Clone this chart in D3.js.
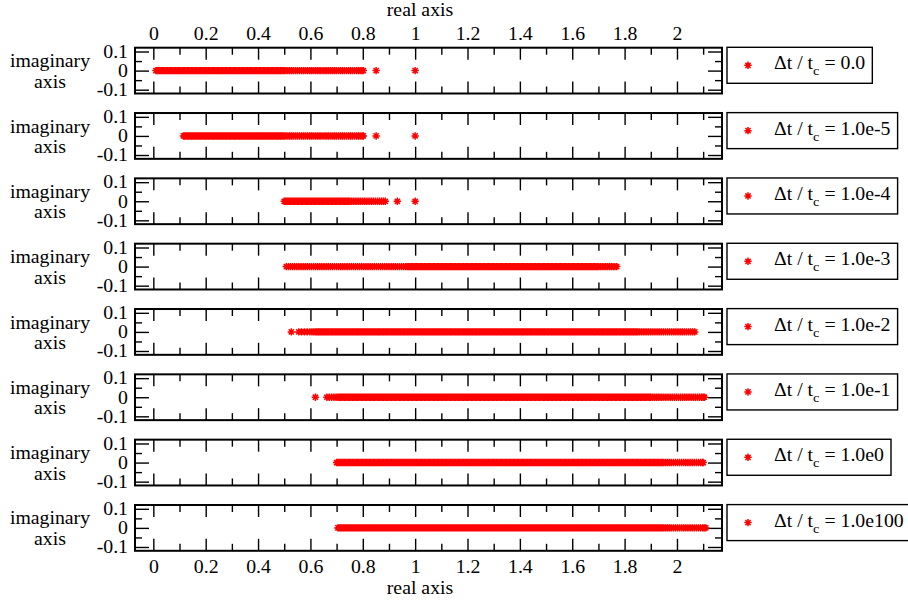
<!DOCTYPE html>
<html>
<head>
<meta charset="utf-8">
<script src="https://cdn.jsdelivr.net/npm/d3@7"></script>
<style>
  html, body { margin: 0; padding: 0; background: #fff; }
  svg { display: block; font-family: "Liberation Serif", "Times New Roman", serif; }
</style>
</head>
<body>
<svg id="chart" width="908" height="601"></svg>
<script>
// Real parts of the eigenvalues (imaginary parts are all zero), one array per time step ratio.
const eigDt0 = [
  0.01,0.015,0.02,0.025,0.03,0.035,0.04,0.045,0.05,0.055,0.06,0.065,0.07,0.075,0.08,0.085,0.09,0.095,
  0.10,0.105,0.11,0.115,0.12,0.125,0.13,0.135,0.14,0.145,0.15,0.155,0.16,0.165,0.17,0.175,0.18,0.185,0.19,0.195,
  0.20,0.205,0.21,0.215,0.22,0.225,0.23,0.235,0.24,0.245,0.25,0.255,0.26,0.265,0.27,0.275,0.28,0.285,0.29,0.295,
  0.30,0.305,0.31,0.315,0.32,0.325,0.33,0.335,0.34,0.345,0.35,0.355,0.36,0.365,0.37,0.375,0.38,0.385,0.39,0.395,
  0.40,0.405,0.41,0.415,0.42,0.425,0.43,0.435,0.44,0.445,0.45,0.455,0.46,0.465,0.47,0.475,0.48,0.485,0.49,0.495,
  0.50,0.507,0.514,0.521,0.528,0.535,0.543,0.55,0.558,0.566,0.573,0.58,0.588,0.596,0.603,0.61,0.618,0.626,
  0.633,0.64,0.648,0.656,0.663,0.67,0.678,0.686,0.693,0.70,0.708,0.716,0.723,0.73,0.738,0.746,0.753,0.76,
  0.768,0.776,0.783,0.79,0.797,0.802,
  0.851,1.0
];
const eigDt1em5 = [
  0.115,0.12,0.125,0.13,0.135,0.14,0.145,0.15,0.155,0.16,0.165,0.17,0.175,0.18,0.185,0.19,0.195,
  0.20,0.205,0.21,0.215,0.22,0.225,0.23,0.235,0.24,0.245,0.25,0.255,0.26,0.265,0.27,0.275,0.28,0.285,0.29,0.295,
  0.30,0.305,0.31,0.315,0.32,0.325,0.33,0.335,0.34,0.345,0.35,0.355,0.36,0.365,0.37,0.375,0.38,0.385,0.39,0.395,
  0.40,0.405,0.41,0.415,0.42,0.425,0.43,0.435,0.44,0.445,0.45,0.455,0.46,0.465,0.47,0.475,0.48,0.485,0.49,0.495,
  0.50,0.507,0.514,0.521,0.528,0.535,0.543,0.55,0.558,0.566,0.573,0.58,0.588,0.596,0.603,0.61,0.618,0.626,
  0.633,0.64,0.648,0.656,0.663,0.67,0.678,0.686,0.693,0.70,0.708,0.716,0.723,0.73,0.738,0.746,0.753,0.76,
  0.768,0.776,0.783,0.79,0.797,0.802,
  0.851,1.0
];
const eigDt1em4 = [
  0.50,0.505,0.51,0.515,0.52,0.525,0.53,0.535,0.54,0.545,0.55,0.555,0.56,0.565,0.57,0.575,0.58,0.585,0.59,0.595,
  0.60,0.605,0.61,0.615,0.62,0.625,0.63,0.635,0.64,0.645,0.65,0.655,0.66,0.665,0.67,0.675,0.68,0.685,0.69,0.695,
  0.70,0.705,0.71,0.715,0.72,0.725,0.73,0.735,0.74,0.745,0.75,
  0.757,0.764,0.771,0.778,0.785,0.792,0.80,0.808,0.816,0.824,0.832,0.84,0.848,0.856,0.864,0.872,0.879,0.886,
  0.932,1.0
];
const eigDt1em3 = [
  0.508,0.516,0.524,0.532,0.54,0.548,0.556,0.564,0.572,0.58,0.588,0.596,0.604,0.612,0.62,0.628,0.636,0.644,
  0.652,0.66,0.668,0.676,0.684,0.692,0.70,0.708,0.716,0.724,0.732,0.74,0.748,0.756,0.764,0.772,0.78,0.788,
  0.796,0.804,0.812,0.82,0.828,0.836,0.844,0.852,0.86,0.868,0.876,0.884,0.892,0.90,0.908,0.916,0.924,0.932,
  0.94,0.948,0.956,0.964,
  0.97,0.975,0.98,0.985,0.99,0.995,
  1.00,1.005,1.01,1.015,1.02,1.025,1.03,1.035,1.04,1.045,1.05,1.055,1.06,1.065,1.07,1.075,1.08,1.085,1.09,1.095,
  1.10,1.105,1.11,1.115,1.12,1.125,1.13,1.135,1.14,1.145,1.15,1.155,1.16,1.165,1.17,1.175,1.18,1.185,1.19,1.195,
  1.20,1.205,1.21,1.215,1.22,1.225,1.23,1.235,1.24,1.245,1.25,1.255,1.26,1.265,1.27,1.275,1.28,1.285,1.29,1.295,
  1.30,1.305,1.31,1.315,1.32,1.325,1.33,1.335,1.34,1.345,1.35,1.355,1.36,1.365,1.37,1.375,1.38,1.385,1.39,1.395,
  1.40,1.405,1.41,1.415,1.42,1.425,1.43,1.435,1.44,1.445,1.45,1.455,1.46,1.465,1.47,1.475,1.48,1.485,1.49,1.495,
  1.50,1.505,1.51,1.515,1.52,1.525,1.53,1.535,1.54,1.545,1.55,1.555,1.56,1.565,1.57,1.575,1.58,1.585,1.59,1.595,
  1.60,1.605,1.61,1.615,1.62,1.625,1.63,1.635,1.64,1.645,1.65,1.655,1.66,1.665,1.67,1.675,1.68,1.685,1.69,1.695,
  1.70,1.707,1.714,1.721,1.728,1.735,1.742,1.749,1.756,1.763,1.77
];
const eigDt1em2 = [
  0.527,
  0.555,0.566,0.577,0.588,0.598,0.606,0.613,
  0.62,0.625,0.63,0.635,0.64,0.645,0.65,0.655,0.66,0.665,0.67,0.675,0.68,0.685,0.69,0.695,
  0.70,0.705,0.71,0.715,0.72,0.725,0.73,0.735,0.74,0.745,0.75,0.755,0.76,0.765,0.77,0.775,0.78,0.785,0.79,0.795,
  0.80,0.805,0.81,0.815,0.82,0.825,0.83,0.835,0.84,0.845,0.85,0.855,0.86,0.865,0.87,0.875,0.88,0.885,0.89,0.895,
  0.90,0.905,0.91,0.915,0.92,0.925,0.93,0.935,0.94,0.945,0.95,0.955,0.96,0.965,0.97,0.975,0.98,0.985,0.99,0.995,
  1.00,1.005,1.01,1.015,1.02,1.025,1.03,1.035,1.04,1.045,1.05,1.055,1.06,1.065,1.07,1.075,1.08,1.085,1.09,1.095,
  1.10,1.105,1.11,1.115,1.12,1.125,1.13,1.135,1.14,1.145,1.15,1.155,1.16,1.165,1.17,1.175,1.18,1.185,1.19,1.195,
  1.20,1.205,1.21,1.215,1.22,1.225,1.23,1.235,1.24,1.245,1.25,1.255,1.26,1.265,1.27,1.275,1.28,1.285,1.29,1.295,
  1.30,1.305,1.31,1.315,1.32,1.325,1.33,1.335,1.34,1.345,1.35,1.355,1.36,1.365,1.37,1.375,1.38,1.385,1.39,1.395,
  1.40,1.405,1.41,1.415,1.42,1.425,1.43,1.435,1.44,1.445,1.45,1.455,1.46,1.465,1.47,1.475,1.48,1.485,1.49,1.495,
  1.50,1.505,1.51,1.515,1.52,1.525,1.53,1.535,1.54,1.545,1.55,1.555,1.56,1.565,1.57,1.575,1.58,1.585,1.59,1.595,
  1.60,1.605,1.61,1.615,1.62,1.625,1.63,1.635,1.64,1.645,1.65,1.655,1.66,1.665,1.67,1.675,1.68,1.685,1.69,1.695,
  1.70,1.705,1.71,1.715,1.72,1.725,1.73,1.735,1.74,1.745,1.75,1.755,1.76,1.765,1.77,1.775,1.78,1.785,1.79,1.795,
  1.80,1.805,1.81,1.815,1.82,1.825,1.83,1.835,1.84,1.845,1.85,
  1.857,1.864,1.871,1.878,1.885,1.892,1.90,1.908,1.916,1.924,1.932,1.94,1.948,1.956,1.964,1.972,1.98,1.988,
  1.996,2.004,2.012,2.02,2.028,2.036,2.044,2.052,2.06,2.068
];
const eigDt1em1 = [
  0.619,
  0.663,0.672,0.681,0.69,0.698,0.705,0.71,
  0.715,0.72,0.725,0.73,0.735,0.74,0.745,0.75,0.755,0.76,0.765,0.77,0.775,0.78,0.785,0.79,0.795,
  0.80,0.805,0.81,0.815,0.82,0.825,0.83,0.835,0.84,0.845,0.85,0.855,0.86,0.865,0.87,0.875,0.88,0.885,0.89,0.895,
  0.90,0.905,0.91,0.915,0.92,0.925,0.93,0.935,0.94,0.945,0.95,0.955,0.96,0.965,0.97,0.975,0.98,0.985,0.99,0.995,
  1.00,1.005,1.01,1.015,1.02,1.025,1.03,1.035,1.04,1.045,1.05,1.055,1.06,1.065,1.07,1.075,1.08,1.085,1.09,1.095,
  1.10,1.105,1.11,1.115,1.12,1.125,1.13,1.135,1.14,1.145,1.15,1.155,1.16,1.165,1.17,1.175,1.18,1.185,1.19,1.195,
  1.20,1.205,1.21,1.215,1.22,1.225,1.23,1.235,1.24,1.245,1.25,1.255,1.26,1.265,1.27,1.275,1.28,1.285,1.29,1.295,
  1.30,1.305,1.31,1.315,1.32,1.325,1.33,1.335,1.34,1.345,1.35,1.355,1.36,1.365,1.37,1.375,1.38,1.385,1.39,1.395,
  1.40,1.405,1.41,1.415,1.42,1.425,1.43,1.435,1.44,1.445,1.45,1.455,1.46,1.465,1.47,1.475,1.48,1.485,1.49,1.495,
  1.50,1.505,1.51,1.515,1.52,1.525,1.53,1.535,1.54,1.545,1.55,1.555,1.56,1.565,1.57,1.575,1.58,1.585,1.59,1.595,
  1.60,1.605,1.61,1.615,1.62,1.625,1.63,1.635,1.64,1.645,1.65,1.655,1.66,1.665,1.67,1.675,1.68,1.685,1.69,1.695,
  1.70,1.705,1.71,1.715,1.72,1.725,1.73,1.735,1.74,1.745,1.75,1.755,1.76,1.765,1.77,1.775,1.78,1.785,1.79,1.795,
  1.80,1.805,1.81,1.815,1.82,1.825,1.83,1.835,1.84,1.845,1.85,1.855,1.86,1.865,1.87,1.875,1.88,1.885,1.89,1.895,1.90,
  1.907,1.914,1.921,1.928,1.935,1.942,1.95,1.958,1.966,1.974,1.982,1.99,1.998,2.006,2.014,2.022,2.03,2.038,
  2.046,2.054,2.062,2.07,2.078,2.086,2.094,2.10,2.105
];
const eigDt1e0 = [
  0.70,0.705,0.71,0.715,0.72,0.725,0.73,0.735,0.74,0.745,0.75,0.755,0.76,0.765,0.77,0.775,0.78,0.785,0.79,0.795,
  0.80,0.805,0.81,0.815,0.82,0.825,0.83,0.835,0.84,0.845,0.85,0.855,0.86,0.865,0.87,0.875,0.88,0.885,0.89,0.895,
  0.90,0.905,0.91,0.915,0.92,0.925,0.93,0.935,0.94,0.945,0.95,0.955,0.96,0.965,0.97,0.975,0.98,0.985,0.99,0.995,
  1.00,1.005,1.01,1.015,1.02,1.025,1.03,1.035,1.04,1.045,1.05,1.055,1.06,1.065,1.07,1.075,1.08,1.085,1.09,1.095,
  1.10,1.105,1.11,1.115,1.12,1.125,1.13,1.135,1.14,1.145,1.15,1.155,1.16,1.165,1.17,1.175,1.18,1.185,1.19,1.195,
  1.20,1.205,1.21,1.215,1.22,1.225,1.23,1.235,1.24,1.245,1.25,1.255,1.26,1.265,1.27,1.275,1.28,1.285,1.29,1.295,
  1.30,1.305,1.31,1.315,1.32,1.325,1.33,1.335,1.34,1.345,1.35,1.355,1.36,1.365,1.37,1.375,1.38,1.385,1.39,1.395,
  1.40,1.405,1.41,1.415,1.42,1.425,1.43,1.435,1.44,1.445,1.45,1.455,1.46,1.465,1.47,1.475,1.48,1.485,1.49,1.495,
  1.50,1.505,1.51,1.515,1.52,1.525,1.53,1.535,1.54,1.545,1.55,1.555,1.56,1.565,1.57,1.575,1.58,1.585,1.59,1.595,
  1.60,1.605,1.61,1.615,1.62,1.625,1.63,1.635,1.64,1.645,1.65,1.655,1.66,1.665,1.67,1.675,1.68,1.685,1.69,1.695,
  1.70,1.705,1.71,1.715,1.72,1.725,1.73,1.735,1.74,1.745,1.75,1.755,1.76,1.765,1.77,1.775,1.78,1.785,1.79,1.795,
  1.80,1.805,1.81,1.815,1.82,1.825,1.83,1.835,1.84,1.845,1.85,1.855,1.86,1.865,1.87,1.875,1.88,1.885,1.89,1.895,
  1.90,1.905,1.91,1.915,1.92,1.925,1.93,1.935,1.94,1.945,1.95,
  1.957,1.964,1.971,1.978,1.986,1.994,2.002,2.01,2.018,2.026,2.034,2.042,2.05,2.058,2.066,2.074,2.082,2.09,2.097,2.10
];
const eigDt1e100 = [
  0.705,0.71,0.715,0.72,0.725,0.73,0.735,0.74,0.745,0.75,0.755,0.76,0.765,0.77,0.775,0.78,0.785,0.79,0.795,
  0.80,0.805,0.81,0.815,0.82,0.825,0.83,0.835,0.84,0.845,0.85,0.855,0.86,0.865,0.87,0.875,0.88,0.885,0.89,0.895,
  0.90,0.905,0.91,0.915,0.92,0.925,0.93,0.935,0.94,0.945,0.95,0.955,0.96,0.965,0.97,0.975,0.98,0.985,0.99,0.995,
  1.00,1.005,1.01,1.015,1.02,1.025,1.03,1.035,1.04,1.045,1.05,1.055,1.06,1.065,1.07,1.075,1.08,1.085,1.09,1.095,
  1.10,1.105,1.11,1.115,1.12,1.125,1.13,1.135,1.14,1.145,1.15,1.155,1.16,1.165,1.17,1.175,1.18,1.185,1.19,1.195,
  1.20,1.205,1.21,1.215,1.22,1.225,1.23,1.235,1.24,1.245,1.25,1.255,1.26,1.265,1.27,1.275,1.28,1.285,1.29,1.295,
  1.30,1.305,1.31,1.315,1.32,1.325,1.33,1.335,1.34,1.345,1.35,1.355,1.36,1.365,1.37,1.375,1.38,1.385,1.39,1.395,
  1.40,1.405,1.41,1.415,1.42,1.425,1.43,1.435,1.44,1.445,1.45,1.455,1.46,1.465,1.47,1.475,1.48,1.485,1.49,1.495,
  1.50,1.505,1.51,1.515,1.52,1.525,1.53,1.535,1.54,1.545,1.55,1.555,1.56,1.565,1.57,1.575,1.58,1.585,1.59,1.595,
  1.60,1.605,1.61,1.615,1.62,1.625,1.63,1.635,1.64,1.645,1.65,1.655,1.66,1.665,1.67,1.675,1.68,1.685,1.69,1.695,
  1.70,1.705,1.71,1.715,1.72,1.725,1.73,1.735,1.74,1.745,1.75,1.755,1.76,1.765,1.77,1.775,1.78,1.785,1.79,1.795,
  1.80,1.805,1.81,1.815,1.82,1.825,1.83,1.835,1.84,1.845,1.85,1.855,1.86,1.865,1.87,1.875,1.88,1.885,1.89,1.895,
  1.90,1.905,1.91,1.915,1.92,1.925,1.93,1.935,1.94,1.945,1.95,
  1.957,1.964,1.971,1.978,1.986,1.994,2.002,2.01,2.018,2.026,2.034,2.042,2.05,2.058,2.066,2.074,2.082,2.09,2.098,
  2.104,2.11
];

// Legend values of Δt / t_c, in panel order
const stepLabels = ["0.0", "1.0e-5", "1.0e-4", "1.0e-3", "1.0e-2", "1.0e-1", "1.0e0", "1.0e100"];

// Axis ticks
const xMajorTicks = [0, 0.2, 0.4, 0.6, 0.8, 1.0, 1.2, 1.4, 1.6, 1.8, 2.0];
const xMajorLabels = ["0", "0.2", "0.4", "0.6", "0.8", "1", "1.2", "1.4", "1.6", "1.8", "2"];
const xMinorTicks = [0.1, 0.3, 0.5, 0.7, 0.9, 1.1, 1.3, 1.5, 1.7, 1.9, 2.1];
const yMajorTicks = [-0.1, 0, 0.1];
const yMajorLabels = ["-0.1", "0", "0.1"];
const yMinorTicks = [-0.05, 0.05];

const series = [eigDt0, eigDt1em5, eigDt1em4, eigDt1em3, eigDt1em2, eigDt1em1, eigDt1e0, eigDt1e100];

// ---- layout ----
const FONT = '"Liberation Serif", "Times New Roman", serif';
const FS = 18;
const WIDEN = 1.1;            // horizontal stretch applied to all text
const left = 135, right = 722;
const panelH = 45.8;
const svg = d3.select("#chart");

const x = d3.scaleLinear().domain([-0.07, 2.172]).range([left, right]);
const y = d3.scaleLinear().domain([-0.12, 0.12]).range([panelH, 0]);
const panelTop = d3.scaleLinear().domain([0, series.length - 1]).range([47.7, 505]);

// asterisk marker
const star = "M-3.7,0H3.7M0,-3.7V3.7M-2.6,-2.6L2.6,2.6M-2.6,2.6L2.6,-2.6";
const starWidth = 1.5;

// stretch a text element horizontally, keeping its anchor x fixed
function widen(sel, x0) {
  sel.each(function () {
    const t = d3.select(this);
    const ax = x0 !== undefined ? x0 : (+t.attr("x") || 0);
    t.attr("transform", `translate(${ax * (1 - WIDEN)},0) scale(${WIDEN},1)`);
  });
}

function styleAxis(g) {
  g.select(".domain").remove();
  g.selectAll(".tick line").attr("stroke", "#000").attr("stroke-width", 1.4);
  g.selectAll(".tick text").attr("font-family", FONT).attr("font-size", FS).attr("fill", "#000")
    .call(widen);
  g.attr("font-family", null).attr("font-size", null);
}

const xLabelFmt = v => xMajorLabels[xMajorTicks.findIndex(t => Math.abs(t - v) < 1e-9)];
const yLabelFmt = v => yMajorLabels[yMajorTicks.findIndex(t => Math.abs(t - v) < 1e-9)];

series.forEach((vals, i) => {
  const top = panelTop(i);
  const g = svg.append("g").attr("transform", `translate(0,${top})`);
  const first = i === 0, last = i === series.length - 1;

  // top x axis
  g.append("g")
    .call(d3.axisTop(x).tickValues(xMinorTicks).tickSize(-7).tickFormat(""))
    .call(styleAxis);
  g.append("g")
    .call(d3.axisTop(x).tickValues(xMajorTicks).tickSize(-12).tickPadding(8)
      .tickFormat(first ? xLabelFmt : () => ""))
    .call(styleAxis);

  // bottom x axis
  g.append("g").attr("transform", `translate(0,${panelH})`)
    .call(d3.axisBottom(x).tickValues(xMinorTicks).tickSize(-7).tickFormat(""))
    .call(styleAxis);
  g.append("g").attr("transform", `translate(0,${panelH})`)
    .call(d3.axisBottom(x).tickValues(xMajorTicks).tickSize(-12).tickPadding(9)
      .tickFormat(last ? xLabelFmt : () => ""))
    .call(styleAxis);

  // left y axis
  g.append("g").attr("transform", `translate(${left},0)`)
    .call(d3.axisLeft(y).tickValues(yMinorTicks).tickSize(-7).tickFormat(""))
    .call(styleAxis);
  g.append("g").attr("transform", `translate(${left},0)`)
    .call(d3.axisLeft(y).tickValues(yMajorTicks).tickSize(-14).tickPadding(7).tickFormat(yLabelFmt))
    .call(styleAxis);

  // right y axis
  g.append("g").attr("transform", `translate(${right},0)`)
    .call(d3.axisRight(y).tickValues(yMinorTicks).tickSize(-7).tickFormat(""))
    .call(styleAxis);
  g.append("g").attr("transform", `translate(${right},0)`)
    .call(d3.axisRight(y).tickValues(yMajorTicks).tickSize(-14).tickFormat(""))
    .call(styleAxis);

  // eigenvalue markers
  g.append("g").selectAll("path").data(vals).join("path")
    .attr("d", star)
    .attr("transform", d => `translate(${x(d)},${y(0)})`)
    .attr("fill", "none")
    .attr("stroke", "#ff0000")
    .attr("stroke-width", starWidth);

  // frame
  g.append("rect")
    .attr("x", left).attr("y", 0)
    .attr("width", right - left).attr("height", panelH)
    .attr("fill", "none").attr("stroke", "#000").attr("stroke-width", 2);

  // y axis title
  const yt = g.append("text").attr("font-family", FONT).attr("font-size", FS)
    .attr("text-anchor", "middle").attr("fill", "#000");
  yt.append("tspan").attr("x", 50).attr("y", 19.5).text("imaginary");
  yt.append("tspan").attr("x", 50).attr("y", 40).text("axis");
  widen(yt, 50);

  // legend box
  const lg = g.append("g").attr("transform", "translate(727,-0.4)");
  const box = lg.append("rect").attr("x", 0).attr("y", 0).attr("height", 36)
    .attr("fill", "#fff").attr("stroke", "#000").attr("stroke-width", 1.4);
  lg.append("path").attr("d", star).attr("transform", "translate(21,18)")
    .attr("fill", "none").attr("stroke", "#ff0000").attr("stroke-width", starWidth);
  const tx = 47;
  const lt = lg.append("text").attr("x", tx).attr("y", 22)
    .attr("font-family", FONT).attr("font-size", FS).attr("fill", "#000");
  lt.append("tspan").text("Δt / t");
  lt.append("tspan").attr("font-size", 13).attr("dy", 6).text("c");
  lt.append("tspan").attr("dy", -6).text(" = " + stepLabels[i]);
  const bb = lt.node().getBBox();
  widen(lt, tx);
  box.attr("width", tx + (bb.x + bb.width - tx) * WIDEN + 7);
});

// x axis titles
const cx = 420;
svg.append("text").attr("x", cx).attr("y", 16)
  .attr("text-anchor", "middle").attr("font-family", FONT).attr("font-size", FS)
  .attr("fill", "#000").text("real axis").call(widen);
svg.append("text").attr("x", cx).attr("y", 594)
  .attr("text-anchor", "middle").attr("font-family", FONT).attr("font-size", FS)
  .attr("fill", "#000").text("real axis").call(widen);
</script>
</body>
</html>
